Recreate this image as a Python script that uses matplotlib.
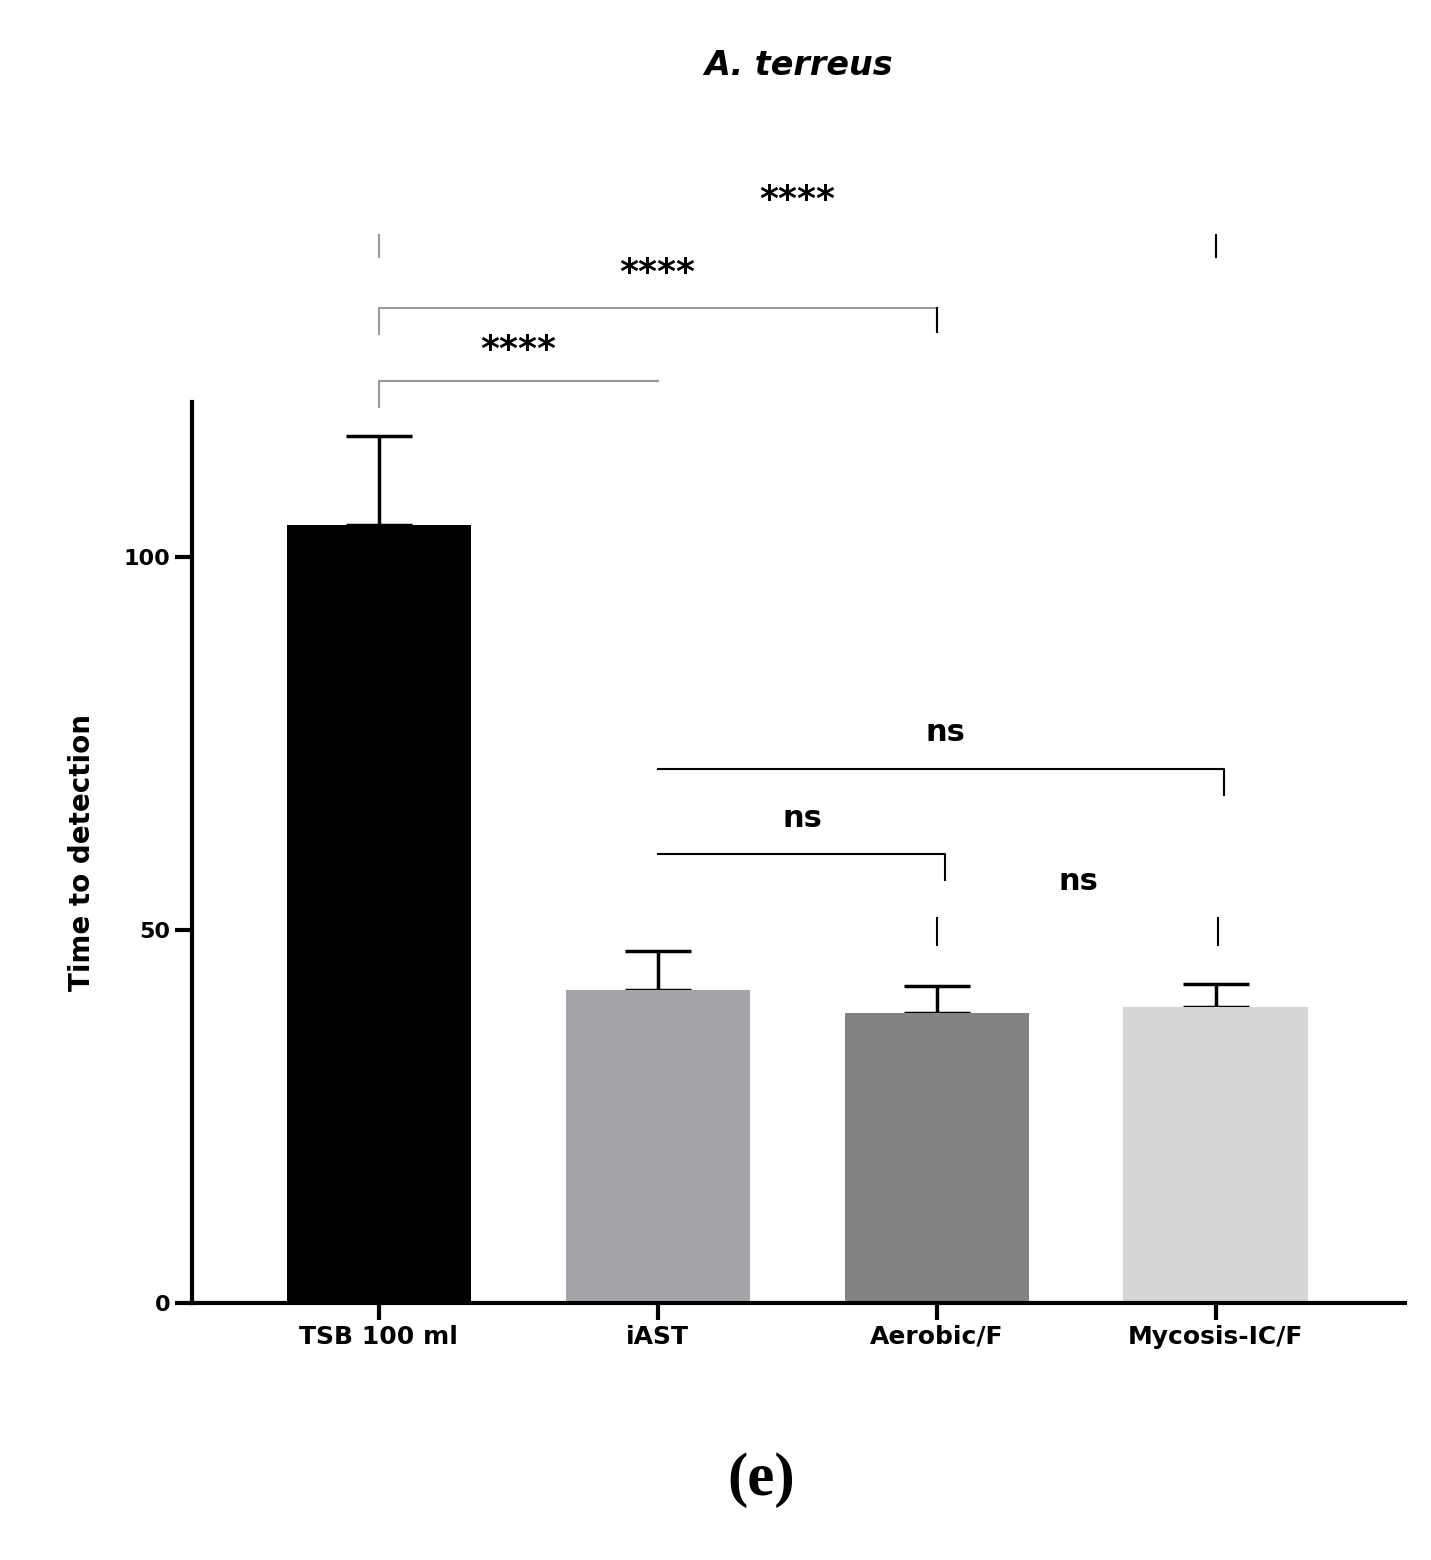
import matplotlib
matplotlib.use("Agg")
import matplotlib.pyplot as plt

categories = ["TSB 100 ml", "iAST", "Aerobic/F", "Mycosis-IC/F"]
means = [104.3, 42.0, 38.9, 39.7]
errors = [11.9, 5.2, 3.6, 3.1]
colors = ["#000000", "#a4a5a9", "#838383", "#d6d6d6"]
yticks = [0, 50, 100]

fig = plt.figure(figsize=(14.31, 15.60), dpi=100)
ax = fig.add_axes([0.134, 0.1647, 0.848, 0.5775])
x = list(range(len(categories)))
ax.bar(x, means, width=0.66, color=colors, zorder=2)
ax.errorbar(x, means, yerr=[[0]*4, errors], fmt="none", ecolor="black",
            elinewidth=2.5, capsize=24, capthick=2.5, zorder=1)
ax.set_xlim(-0.67, 3.68)
ax.set_ylim(0, 120.8)
ax.set_yticks(yticks)
ax.set_xticks(x)
ax.set_xticklabels(categories, fontsize=18, fontweight="bold")
for l in ax.get_yticklabels():
    l.set_fontweight("bold"); l.set_fontsize(16)
ax.tick_params(axis="both", width=3, length=12, direction="out")
ax.spines["top"].set_visible(False)
ax.spines["right"].set_visible(False)
ax.spines["left"].set_linewidth(3)
ax.spines["bottom"].set_linewidth(3)
ax.set_ylabel("Time to detection", fontsize=20, fontweight="bold", labelpad=20)

def line(xs, ys, c="black", lw=1.5):
    ax.plot(xs, ys, color=c, lw=lw, clip_on=False)

gray = "#999999"
# significance brackets
line([0, 0, 1], [120.1, 123.7, 123.7], gray)
ax.text(0.5, 125.5, "****", ha="center", va="bottom", fontsize=26, fontweight="bold")
line([0, 0, 2, 2], [130.0, 133.4, 133.4, 130.2], gray)
line([2, 2], [130.2, 133.4])
ax.text(1.0, 135.8, "****", ha="center", va="bottom", fontsize=26, fontweight="bold")
line([0, 0], [140.3, 143.2], gray)
line([3, 3], [140.3, 143.2])
ax.text(1.5, 145.6, "****", ha="center", va="bottom", fontsize=26, fontweight="bold")

line([1, 3.03, 3.03], [71.6, 71.6, 68.1])
ax.text(2.03, 74.5, "ns", ha="center", va="bottom", fontsize=22, fontweight="bold")
line([1, 2.03, 2.03], [60.2, 60.2, 56.7])
ax.text(1.52, 63.0, "ns", ha="center", va="bottom", fontsize=22, fontweight="bold")
line([2, 2], [48.0, 51.6])
line([3.01, 3.01], [48.0, 51.6])
ax.text(2.51, 54.6, "ns", ha="center", va="bottom", fontsize=22, fontweight="bold")

fig.text(0.558, 0.958, "A. terreus", ha="center", va="center", fontsize=24,
         fontweight="bold", fontstyle="italic")
fig.text(0.532, 0.051, "(e)", ha="center", va="center", fontsize=44,
         family="Liberation Serif", fontweight="bold")
fig.savefig("out.png", dpi=100)
